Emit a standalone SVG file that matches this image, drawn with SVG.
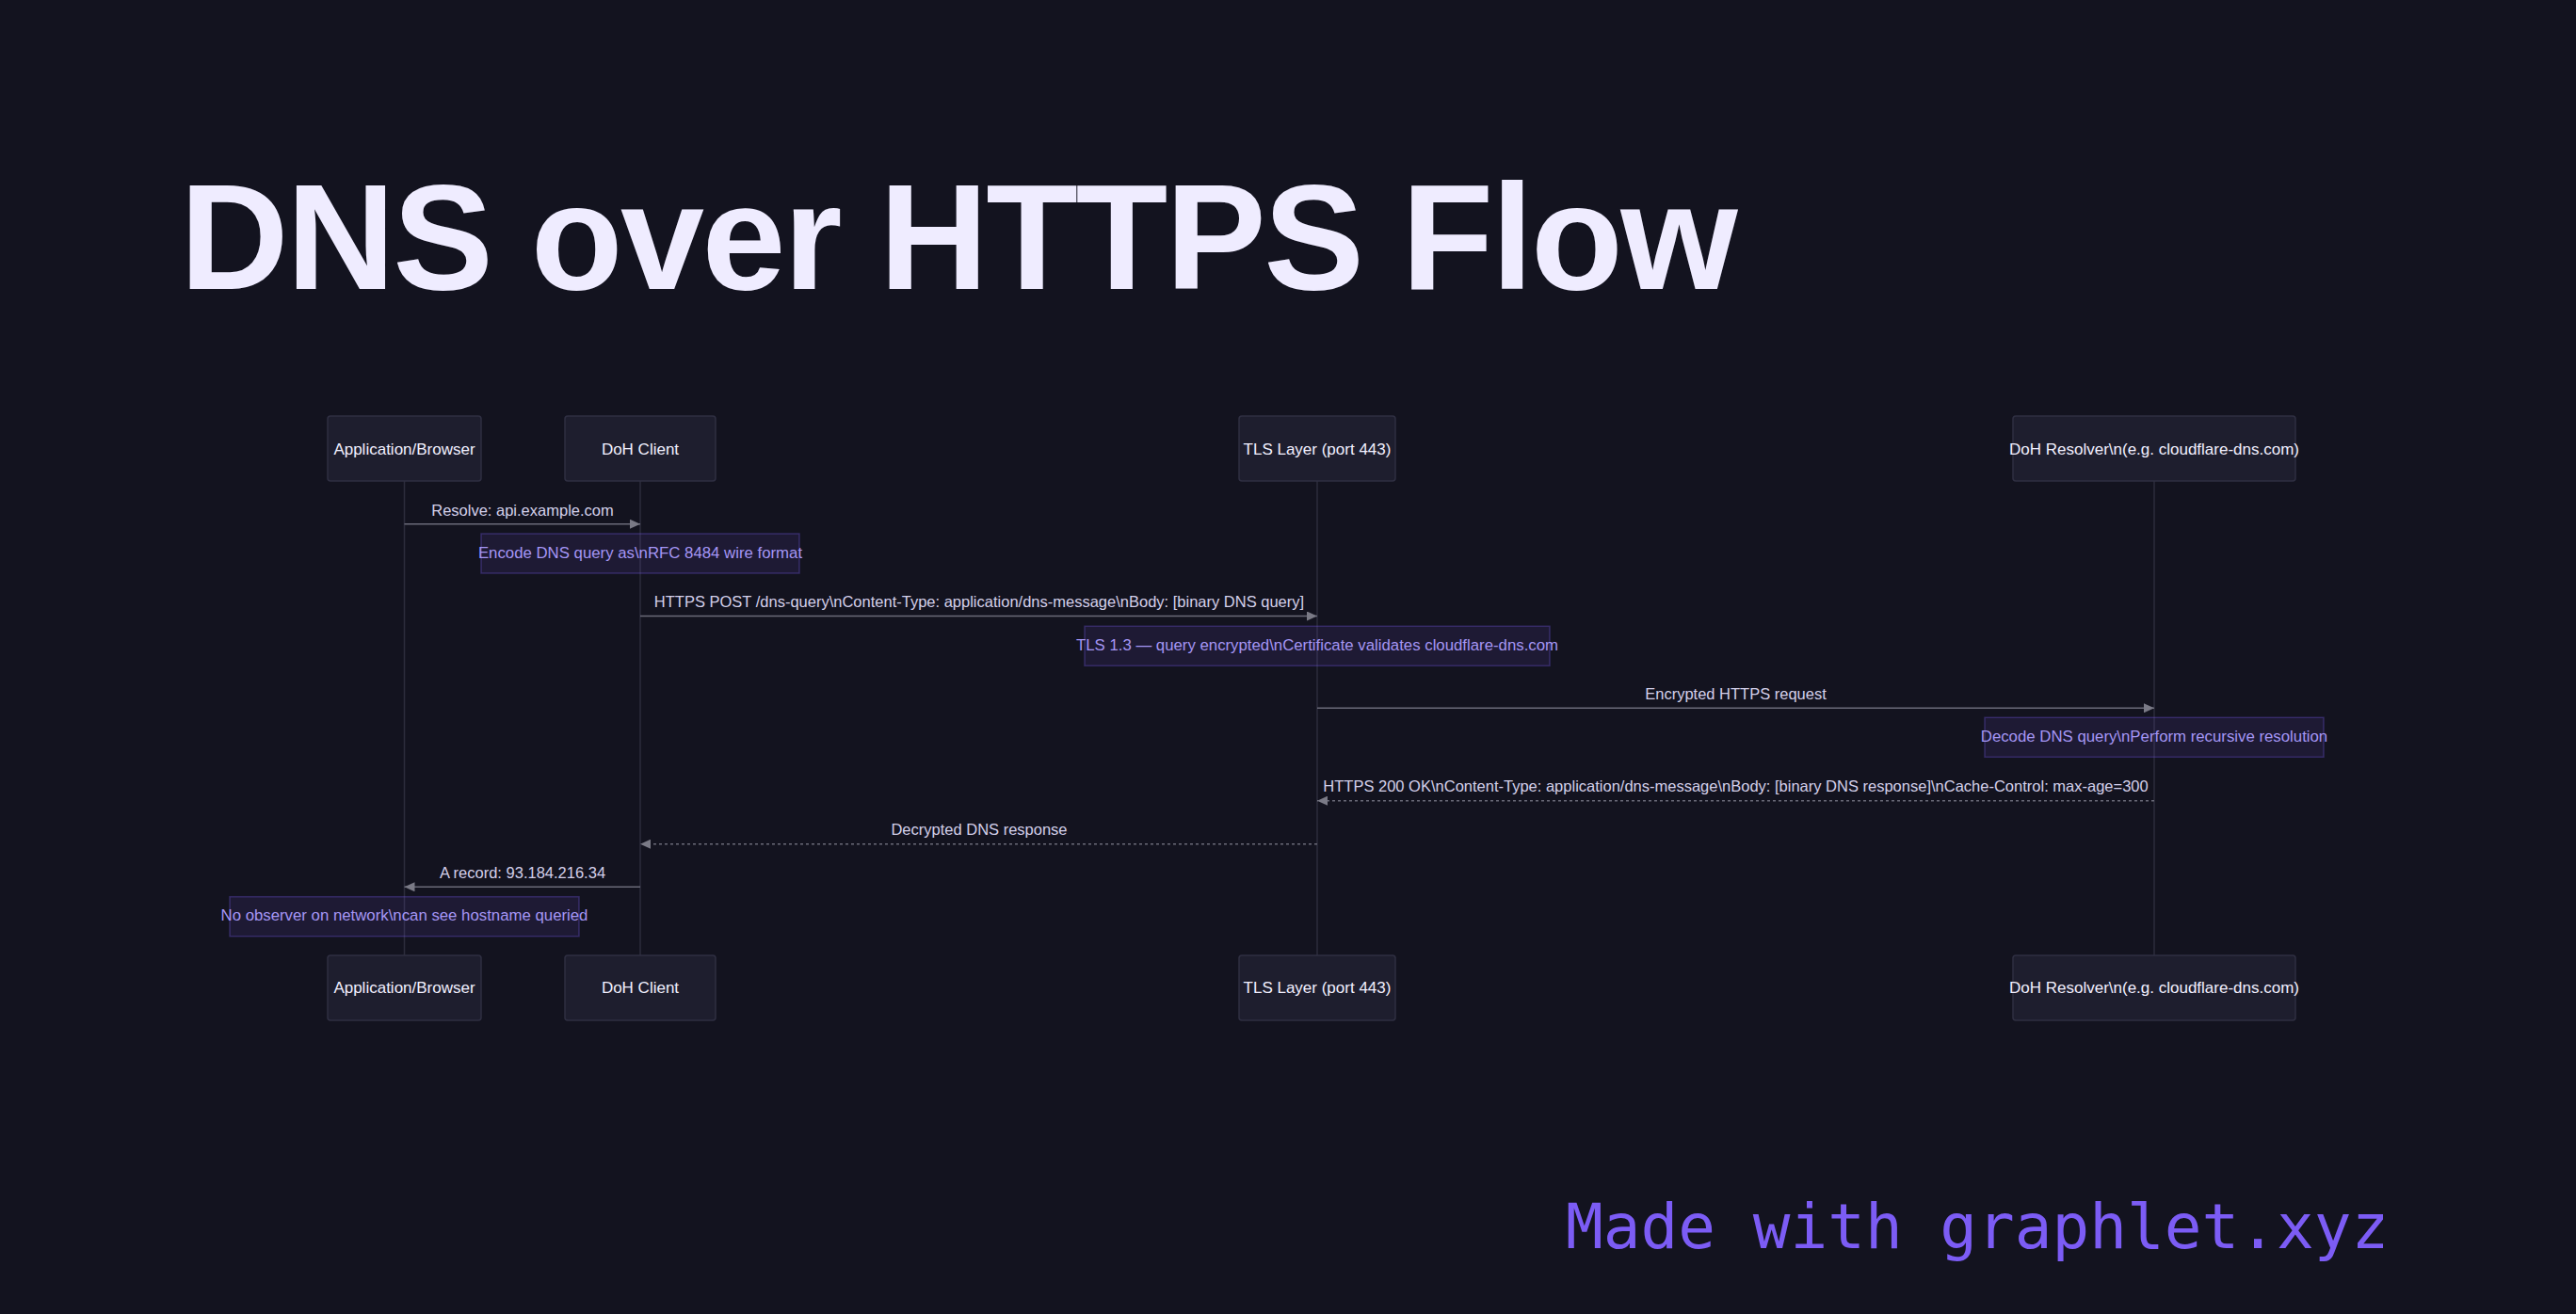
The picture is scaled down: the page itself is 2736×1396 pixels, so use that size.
<svg xmlns="http://www.w3.org/2000/svg" width="2736" height="1396" viewBox="0 0 2736 1396">
  <style>
    .title { font-family: "Liberation Sans", Arial, sans-serif; font-weight: 700; font-size: 160px; fill: #efecff; letter-spacing: -2.4px; }
    .actor rect { fill: #1e1e2e; stroke: #2f2f42; stroke-width: 1.5; }
    .actor text { font-family: "Liberation Sans", Arial, sans-serif; font-size: 17px; fill: #f2f0ff; text-anchor: middle; }
    .life { stroke: #2c2c3c; stroke-width: 1.5; }
    .msg { stroke: #6a6a78; stroke-width: 1.5; fill: none; }
    .dash { stroke-dasharray: 3 3; }
    .mtext { font-family: "Liberation Sans", Arial, sans-serif; font-size: 16.5px; fill: #d4d0ea; text-anchor: middle; }
    .note rect { fill: #7c5cf5; fill-opacity: 0.1; stroke: #7c5cf5; stroke-opacity: 0.3; stroke-width: 1.5; }
    .note text { font-family: "Liberation Sans", Arial, sans-serif; font-size: 16.8px; fill: #a596f5; text-anchor: middle; }
    .brand { font-family: "DejaVu Sans Mono", "Liberation Mono", monospace; font-size: 66px; fill: #7c5cf5; }
  </style>
  <defs>
    <marker id="arrow" markerWidth="11" markerHeight="10" refX="11" refY="5" orient="auto" markerUnits="userSpaceOnUse">
      <path d="M0,0 L11,5 L0,10 z" fill="#7a7a86"/>
    </marker>
  </defs>
  <rect width="2736" height="1396" fill="#13131f"/>
  <text class="title" x="191" y="307">DNS over HTTPS Flow</text>

  <g id="lifelines">
    <line class="life" x1="429.5" y1="511" x2="429.5" y2="1015"/>
    <line class="life" x1="680" y1="511" x2="680" y2="1015"/>
    <line class="life" x1="1399" y1="511" x2="1399" y2="1015"/>
    <line class="life" x1="2288" y1="511" x2="2288" y2="1015"/>
  </g>

  <g id="app" class="actor">
    <rect x="348" y="442" width="163" height="69" rx="3"/>
    <text x="429.5" y="483">Application/Browser</text>
    <rect x="348" y="1015" width="163" height="69" rx="3"/>
    <text x="429.5" y="1055">Application/Browser</text>
  </g>
  <g id="dohclient" class="actor">
    <rect x="600" y="442" width="160" height="69" rx="3"/>
    <text x="680" y="483">DoH Client</text>
    <rect x="600" y="1015" width="160" height="69" rx="3"/>
    <text x="680" y="1055">DoH Client</text>
  </g>
  <g id="tls" class="actor">
    <rect x="1316" y="442" width="166" height="69" rx="3"/>
    <text x="1399" y="483">TLS Layer (port 443)</text>
    <rect x="1316" y="1015" width="166" height="69" rx="3"/>
    <text x="1399" y="1055">TLS Layer (port 443)</text>
  </g>
  <g id="resolver" class="actor">
    <rect x="2138" y="442" width="300" height="69" rx="3"/>
    <text x="2288" y="483">DoH Resolver\n(e.g. cloudflare-dns.com)</text>
    <rect x="2138" y="1015" width="300" height="69" rx="3"/>
    <text x="2288" y="1055">DoH Resolver\n(e.g. cloudflare-dns.com)</text>
  </g>

  <g id="note1" class="note">
    <rect x="511" y="567" width="338" height="42"/>
    <text x="680" y="593">Encode DNS query as\nRFC 8484 wire format</text>
  </g>
  <g id="note2" class="note">
    <rect x="1152" y="665.3" width="494" height="42"/>
    <text x="1399" y="691">TLS 1.3 — query encrypted\nCertificate validates cloudflare-dns.com</text>
  </g>
  <g id="note3" class="note">
    <rect x="2108" y="762.3" width="360" height="42"/>
    <text x="2288" y="788">Decode DNS query\nPerform recursive resolution</text>
  </g>
  <g id="note4" class="note">
    <rect x="244" y="952.7" width="371" height="42"/>
    <text x="429.5" y="978">No observer on network\ncan see hostname queried</text>
  </g>

  <g id="connectors">
    <line class="msg" x1="429.5" y1="556.7" x2="680" y2="556.7" marker-end="url(#arrow)"/>
    <text class="mtext" x="555" y="547.5">Resolve: api.example.com</text>
    <line class="msg" x1="680" y1="654.5" x2="1399" y2="654.5" marker-end="url(#arrow)"/>
    <text class="mtext" x="1040" y="645">HTTPS POST /dns-query\nContent-Type: application/dns-message\nBody: [binary DNS query]</text>
    <line class="msg" x1="1399" y1="752.3" x2="2288" y2="752.3" marker-end="url(#arrow)"/>
    <text class="mtext" x="1843.5" y="743">Encrypted HTTPS request</text>
    <line class="msg dash" x1="2288" y1="850.7" x2="1399" y2="850.7" marker-end="url(#arrow)"/>
    <text class="mtext" x="1843.5" y="841">HTTPS 200 OK\nContent-Type: application/dns-message\nBody: [binary DNS response]\nCache-Control: max-age=300</text>
    <line class="msg dash" x1="1399" y1="896.7" x2="680" y2="896.7" marker-end="url(#arrow)"/>
    <text class="mtext" x="1040" y="887">Decrypted DNS response</text>
    <line class="msg" x1="680" y1="942.3" x2="429.5" y2="942.3" marker-end="url(#arrow)"/>
    <text class="mtext" x="555" y="933">A record: 93.184.216.34</text>
  </g>

  <text class="brand" x="1663" y="1326">Made with graphlet.xyz</text>
</svg>
